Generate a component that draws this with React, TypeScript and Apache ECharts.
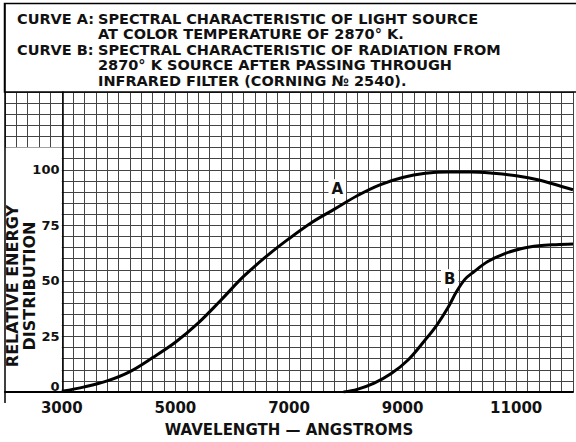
import React, { useEffect, useRef } from "react";
import * as echarts from "echarts";

// ---- data ----
const waveA = [3000, 3400, 3800, 4200, 4600, 5000, 5400, 5800, 6200, 6600, 7000, 7400, 7800, 8200, 8600, 9000, 9400, 9800, 10200, 10600, 11000, 11400, 11800, 12000];
const energyA = [0.3, 2.3, 5, 9.2, 15.5, 22.4, 31, 41.3, 52, 61, 69, 76.3, 82.3, 88.3, 93.2, 96.5, 98.4, 99, 99, 98.4, 97.3, 95.4, 92.5, 91];

const waveB = [7960, 8200, 8500, 8800, 9100, 9400, 9600, 9800, 9950, 10100, 10250, 10500, 10800, 11100, 11400, 11700, 12000];
const energyB = [0, 1.2, 4, 8.3, 14.5, 23.5, 30, 38, 45.2, 50.8, 54, 58.7, 62.3, 64.6, 65.8, 66.3, 66.6];

const xTickLabels = [3000, 5000, 7000, 9000, 11000];
const yTickLabels = [0, 25, 50, 75, 100];

const curveLabels = ["A", "B"];
const curveLabelAt = [
  [7850, 91.5],
  [9830, 51],
];

const legendHeads = ["CURVE A:", "CURVE B:"];
const legendLinesA = ["SPECTRAL CHARACTERISTIC OF LIGHT SOURCE", "AT COLOR TEMPERATURE OF 2870° K."];
const legendLinesB = ["SPECTRAL CHARACTERISTIC OF RADIATION FROM", "2870° K SOURCE AFTER PASSING THROUGH", "INFRARED FILTER (CORNING № 2540)."];

const xTitle = "WAVELENGTH — ANGSTROMS";
const yTitle = "RELATIVE ENERGY\nDISTRIBUTION";

const X_MIN = 2000, X_MAX = 12000, X_STEP = 200;
const Y_MIN = 0, Y_MAX = 135, Y_STEP = 5;
const LABEL_BOX_TOP = 110;

const FONT = "DejaVu Sans";
const INK = "#111";

export default function App() {
  const ref = useRef<HTMLDivElement>(null);

  useEffect(() => {
    document.body.style.margin = "0";
    const chart = echarts.init(ref.current!, null, { renderer: "svg" });

    const textEl = (x: number, y: number, text: string, size = 14.5) => ({
      type: "text",
      x,
      y,
      z: 100,
      style: { text, fill: INK, font: `bold ${size}px "${FONT}"`, verticalAlign: "middle", align: "left" },
    });

    const lineYs = [18.5, 34, 49.5, 65, 80.5];
    const legendGraphics: any[] = [
      textEl(17, lineYs[0], legendHeads[0]),
      textEl(98, lineYs[0], legendLinesA[0]),
      textEl(98, lineYs[1], legendLinesA[1]),
      textEl(17, lineYs[2], legendHeads[1]),
      textEl(98, lineYs[2], legendLinesB[0]),
      textEl(98, lineYs[3], legendLinesB[1]),
      textEl(98, lineYs[4], legendLinesB[2]),
    ];

    const gridLine = { show: true, lineStyle: { color: "#444", width: 1 } };

    const lineSeries = (data: number[][], label: string, at: number[], extra: any = {}) => ({
      type: "line",
      data,
      smooth: 0.35,
      showSymbol: false,
      lineStyle: { color: "#000", width: 3 },
      z: 5,
      markPoint: {
        symbol: "rect",
        symbolSize: 1,
        itemStyle: { color: "rgba(0,0,0,0)" },
        label: {
          show: true,
          position: "inside",
          formatter: label,
          color: INK,
          fontFamily: FONT,
          fontWeight: "bold",
          fontSize: 15,
          backgroundColor: "#fff",
          padding: [2, 3],
        },
        data: [{ coord: at }],
      },
      ...extra,
    });

    const option: any = {
      animation: false,
      backgroundColor: "#fff",
      grid: { left: 5, top: 92, width: 575, height: 311 },
      xAxis: [
        {
          type: "value",
          min: X_MIN,
          max: X_MAX,
          interval: X_STEP,
          z: 0,
          axisLine: { show: false },
          axisTick: { show: false },
          axisLabel: { show: false },
          splitLine: gridLine,
        },
        {
          type: "value",
          position: "bottom",
          min: X_MIN,
          max: X_MAX,
          interval: X_STEP,
          z: 20,
          axisLine: { show: true, onZero: false, lineStyle: { color: "#000", width: 2 } },
          axisTick: { show: false },
          splitLine: { show: false },
          axisLabel: {
            margin: 8,
            color: INK,
            fontFamily: FONT,
            fontWeight: "bold",
            fontSize: 15,
            formatter: (v: number) => (xTickLabels.includes(v) ? String(v) : ""),
          },
          name: xTitle,
          nameLocation: "middle",
          nameGap: 30,
          nameTextStyle: { color: INK, fontFamily: FONT, fontWeight: "bold", fontSize: 15 },
        },
      ],
      yAxis: [
        {
          type: "value",
          min: Y_MIN,
          max: Y_MAX,
          interval: Y_STEP,
          z: 0,
          axisLine: { show: false },
          axisTick: { show: false },
          axisLabel: { show: false },
          splitLine: gridLine,
        },
        {
          type: "value",
          position: "left",
          min: Y_MIN,
          max: Y_MAX,
          interval: Y_STEP,
          offset: -57.5,
          z: 20,
          axisLine: { show: true, onZero: false, lineStyle: { color: "#000", width: 1.5 } },
          axisTick: { show: false },
          splitLine: { show: false },
          axisLabel: {
            margin: 3,
            color: INK,
            fontFamily: FONT,
            fontWeight: "bold",
            fontSize: 13,
            formatter: (v: number) => (yTickLabels.includes(v) ? (v === 0 ? "{z|0}" : String(v)) : ""),
            rich: { z: { fontFamily: FONT, fontWeight: "bold", fontSize: 13, color: INK, padding: [0, 0, 11, 0] } },
          },
        },
      ],
      graphic: [
        {
          type: "rect",
          z: 100,
          shape: { x: 4.5, y: 3.5, width: 600, height: 88.5 },
          style: { fill: "none", stroke: "#000", lineWidth: 1.5 },
        },
        {
          type: "line",
          z: 100,
          shape: { x1: 5, y1: 3.5, x2: 5, y2: 403 },
          style: { stroke: "#000", lineWidth: 1.5 },
        },
        {
          type: "text",
          x: 21,
          y: 286,
          rotation: Math.PI / 2,
          z: 100,
          style: {
            text: yTitle,
            fill: INK,
            font: `bold 16px "${FONT}"`,
            align: "center",
            verticalAlign: "middle",
            lineHeight: 17,
          },
        },
        ...legendGraphics,
      ],
      series: [
        lineSeries(waveA.map((w, i) => [w, energyA[i]]), curveLabels[0], curveLabelAt[0], {
          markArea: {
            silent: true,
            itemStyle: { color: "#fff", borderWidth: 0 },
            data: [[{ xAxis: X_MIN, yAxis: Y_MIN }, { xAxis: 3000, yAxis: LABEL_BOX_TOP }]],
          },
        }),
        lineSeries(waveB.map((w, i) => [w, energyB[i]]), curveLabels[1], curveLabelAt[1]),
      ],
    };

    chart.setOption(option);
    return () => chart.dispose();
  }, []);

  return <div ref={ref} style={{ width: 576, height: 442 }} />;
}
